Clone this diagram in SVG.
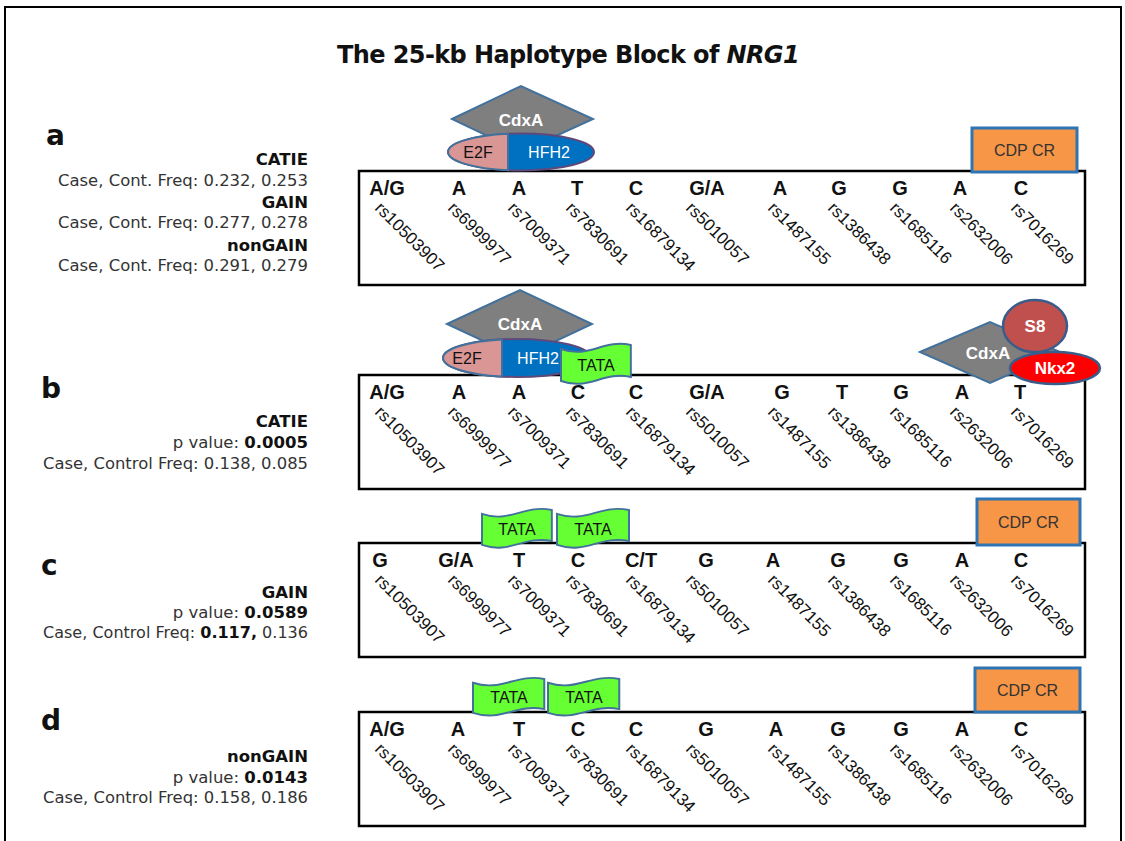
<svg xmlns="http://www.w3.org/2000/svg" width="1125" height="841" viewBox="0 0 1125 841">
<defs>
<style>
.lbl{font-family:"DejaVu Sans",Verdana,sans-serif;font-size:16.5px;fill:#333;text-anchor:end}
.lb{font-weight:bold;fill:#111}
.pl{font-family:"DejaVu Sans",Verdana,sans-serif;font-size:28px;font-weight:bold;fill:#111}
.al{font-family:"Liberation Sans",Arial,sans-serif;font-size:20px;font-weight:bold;fill:#111;text-anchor:middle}
.rs{font-family:"Liberation Sans",Arial,sans-serif;font-size:17px;fill:#111}
.box{fill:#fff;stroke:#000;stroke-width:2.5}
.dia{fill:#7f7f7f;stroke:#41719c;stroke-width:2}
.wt{font-family:"Liberation Sans",Arial,sans-serif;font-size:17px;font-weight:bold;fill:#fff;text-anchor:middle}
.tf{font-family:"Liberation Sans",Arial,sans-serif;font-size:16px;text-anchor:middle}
.cdp{fill:#f79646;stroke:#2e75b6;stroke-width:3}
.flag{fill:#66ff33;stroke:#41719c;stroke-width:2}
.ttl{font-family:"DejaVu Sans",Verdana,sans-serif;font-size:24px;font-weight:bold;fill:#111;letter-spacing:-0.6px}
</style>
<path id="flag" d="M0,4 C29,14 43,-6 72,0 L72,32 C43,26 29,46 0,36 Z"/>
</defs>
<rect x="0" y="0" width="1125" height="841" fill="#fff"/>
<rect x="5" y="7" width="1116" height="850" fill="none" stroke="#000" stroke-width="2"/>
<g id="title">
<text class="ttl" x="337" y="63">The 25-kb Haplotype Block of <tspan font-style="italic">NRG1</tspan></text>
</g>

<!-- Panel a -->
<g id="panel-a">
<text class="pl" x="46" y="145">a</text>
<text class="lbl lb" x="308" y="165">CATIE</text>
<text class="lbl" x="308" y="186" textLength="250" lengthAdjust="spacingAndGlyphs">Case, Cont. Freq: 0.232, 0.253</text>
<text class="lbl lb" x="308" y="208">GAIN</text>
<text class="lbl" x="308" y="228" textLength="250" lengthAdjust="spacingAndGlyphs">Case, Cont. Freq: 0.277, 0.278</text>
<text class="lbl lb" x="308" y="251">nonGAIN</text>
<text class="lbl" x="308" y="271" textLength="250" lengthAdjust="spacingAndGlyphs">Case, Cont. Freq: 0.291, 0.279</text>
<rect class="box" x="359" y="171" width="726" height="114"/>
<g class="al">
<text x="387" y="195">A/G</text><text x="459" y="195">A</text><text x="519" y="195">A</text><text x="577" y="195">T</text><text x="636" y="195">C</text><text x="707" y="195">G/A</text><text x="780" y="195">A</text><text x="839" y="195">G</text><text x="900" y="195">G</text><text x="960" y="195">A</text><text x="1021" y="195">C</text>
</g>
<g class="rs">
<text transform="translate(374,209) rotate(45)">rs10503907</text>
<text transform="translate(447,209) rotate(45)">rs6999977</text>
<text transform="translate(507,209) rotate(45)">rs7009371</text>
<text transform="translate(565,209) rotate(45)">rs7830691</text>
<text transform="translate(625,209) rotate(45)">rs16879134</text>
<text transform="translate(685,209) rotate(45)">rs5010057</text>
<text transform="translate(767,209) rotate(45)">rs1487155</text>
<text transform="translate(827,209) rotate(45)">rs1386438</text>
<text transform="translate(889,209) rotate(45)">rs1685116</text>
<text transform="translate(949,209) rotate(45)">rs2632006</text>
<text transform="translate(1010,209) rotate(45)">rs7016269</text>
</g>
</g>
<g id="a-cdxa">
<polygon class="dia" points="452,119 521,86 593,119 521,152"/>
<text class="wt" x="521" y="126">CdxA</text>
</g>
<g id="a-e2f-hfh2">
<ellipse cx="521" cy="152" rx="73" ry="18.5" fill="#0070c0" stroke="#5f497a" stroke-width="2"/>
<path d="M508,133.8 A73,18.5 0 0 0 508,170.2 Z" fill="#d99694" stroke="#41719c" stroke-width="2"/>
<text class="tf" x="478" y="158" fill="#111">E2F</text>
<text class="tf" x="549" y="158" fill="#fff">HFH2</text>
</g>
<g id="a-cdp">
<rect class="cdp" x="972" y="128" width="105" height="44"/>
<text class="tf" x="1024.5" y="156" fill="#333">CDP CR</text>
</g>

<!-- Panel b -->
<g id="panel-b">
<text class="pl" x="41" y="398">b</text>
<text class="lbl lb" x="308" y="427">CATIE</text>
<text class="lbl" x="308" y="448">p value: <tspan class="lb">0.0005</tspan></text>
<text class="lbl" x="308" y="469" textLength="265" lengthAdjust="spacingAndGlyphs">Case, Control Freq: 0.138, 0.085</text>
<rect class="box" x="359" y="375" width="726" height="114"/>
<g class="al">
<text x="387" y="399">A/G</text><text x="459" y="399">A</text><text x="519" y="399">A</text><text x="578" y="399">C</text><text x="636" y="399">C</text><text x="707" y="399">G/A</text><text x="782" y="399">G</text><text x="842" y="399">T</text><text x="901" y="399">G</text><text x="962" y="399">A</text><text x="1020" y="399">T</text>
</g>
<g class="rs">
<text transform="translate(374,413) rotate(45)">rs10503907</text>
<text transform="translate(447,413) rotate(45)">rs6999977</text>
<text transform="translate(507,413) rotate(45)">rs7009371</text>
<text transform="translate(565,413) rotate(45)">rs7830691</text>
<text transform="translate(625,413) rotate(45)">rs16879134</text>
<text transform="translate(685,413) rotate(45)">rs5010057</text>
<text transform="translate(767,413) rotate(45)">rs1487155</text>
<text transform="translate(827,413) rotate(45)">rs1386438</text>
<text transform="translate(889,413) rotate(45)">rs1685116</text>
<text transform="translate(949,413) rotate(45)">rs2632006</text>
<text transform="translate(1010,413) rotate(45)">rs7016269</text>
</g>
</g>
<g id="b-cdxa">
<polygon class="dia" points="447,324 520,290 592,324 520,358"/>
<text class="wt" x="520" y="330">CdxA</text>
</g>
<g id="b-e2f-hfh2">
<ellipse cx="517" cy="358" rx="74" ry="19" fill="#0070c0" stroke="#5f497a" stroke-width="2"/>
<path d="M502,339.4 A74,19 0 0 0 502,376.6 Z" fill="#d99694" stroke="#41719c" stroke-width="2"/>
<text class="tf" x="467" y="364" fill="#111">E2F</text>
<text class="tf" x="538" y="364" fill="#fff">HFH2</text>
</g>
<g id="b-tata">
<use href="#flag" class="flag" transform="translate(561,345) scale(0.97,1)"/>
<text class="tf" x="596" y="371" fill="#111">TATA</text>
</g>
<g id="b-cdxa2">
<polygon class="dia" points="920,352 990,322 1060,352 990,383"/>
<text class="wt" x="988" y="359">CdxA</text>
</g>
<g id="b-s8">
<ellipse cx="1035" cy="326" rx="32" ry="26" fill="#c0504d" stroke="#385d8a" stroke-width="2.5"/>
<text class="wt" x="1035" y="332">S8</text>
</g>
<g id="b-nkx2">
<ellipse cx="1055" cy="368" rx="45" ry="16" fill="#ff0000" stroke="#385d8a" stroke-width="2.5"/>
<text class="wt" x="1055" y="374">Nkx2</text>
</g>

<!-- Panel c -->
<g id="panel-c">
<text class="pl" x="41" y="575">c</text>
<text class="lbl lb" x="308" y="598">GAIN</text>
<text class="lbl" x="308" y="618">p value: <tspan class="lb">0.0589</tspan></text>
<text class="lbl" x="308" y="638" textLength="265" lengthAdjust="spacingAndGlyphs">Case, Control Freq: <tspan class="lb">0.117,</tspan> 0.136</text>
<rect class="box" x="359" y="543" width="726" height="114"/>
<g class="al">
<text x="380" y="567">G</text><text x="456" y="567">G/A</text><text x="519" y="567">T</text><text x="578" y="567">C</text><text x="641" y="567">C/T</text><text x="706" y="567">G</text><text x="773" y="567">A</text><text x="838" y="567">G</text><text x="901" y="567">G</text><text x="962" y="567">A</text><text x="1021" y="567">C</text>
</g>
<g class="rs">
<text transform="translate(374,581) rotate(45)">rs10503907</text>
<text transform="translate(447,581) rotate(45)">rs6999977</text>
<text transform="translate(507,581) rotate(45)">rs7009371</text>
<text transform="translate(565,581) rotate(45)">rs7830691</text>
<text transform="translate(625,581) rotate(45)">rs16879134</text>
<text transform="translate(685,581) rotate(45)">rs5010057</text>
<text transform="translate(767,581) rotate(45)">rs1487155</text>
<text transform="translate(827,581) rotate(45)">rs1386438</text>
<text transform="translate(889,581) rotate(45)">rs1685116</text>
<text transform="translate(949,581) rotate(45)">rs2632006</text>
<text transform="translate(1010,581) rotate(45)">rs7016269</text>
</g>
</g>
<g id="c-tata1">
<use href="#flag" class="flag" transform="translate(482,510) scale(0.97,0.97)"/>
<text class="tf" x="517" y="535" fill="#111">TATA</text>
</g>
<g id="c-tata2">
<use href="#flag" class="flag" transform="translate(557,510) scale(1,0.97)"/>
<text class="tf" x="593" y="535" fill="#111">TATA</text>
</g>
<g id="c-cdp">
<rect class="cdp" x="977" y="499" width="103" height="46"/>
<text class="tf" x="1028.5" y="528" fill="#333">CDP CR</text>
</g>

<!-- Panel d -->
<g id="panel-d">
<text class="pl" x="41" y="730">d</text>
<text class="lbl lb" x="308" y="762">nonGAIN</text>
<text class="lbl" x="308" y="783">p value: <tspan class="lb">0.0143</tspan></text>
<text class="lbl" x="308" y="803" textLength="265" lengthAdjust="spacingAndGlyphs">Case, Control Freq: 0.158, 0.186</text>
<rect class="box" x="359" y="712" width="726" height="114"/>
<g class="al">
<text x="387" y="736">A/G</text><text x="458" y="736">A</text><text x="519" y="736">T</text><text x="578" y="736">C</text><text x="636" y="736">C</text><text x="706" y="736">G</text><text x="776" y="736">A</text><text x="838" y="736">G</text><text x="901" y="736">G</text><text x="962" y="736">A</text><text x="1021" y="736">C</text>
</g>
<g class="rs">
<text transform="translate(374,750) rotate(45)">rs10503907</text>
<text transform="translate(447,750) rotate(45)">rs6999977</text>
<text transform="translate(507,750) rotate(45)">rs7009371</text>
<text transform="translate(565,750) rotate(45)">rs7830691</text>
<text transform="translate(625,750) rotate(45)">rs16879134</text>
<text transform="translate(685,750) rotate(45)">rs5010057</text>
<text transform="translate(767,750) rotate(45)">rs1487155</text>
<text transform="translate(827,750) rotate(45)">rs1386438</text>
<text transform="translate(889,750) rotate(45)">rs1685116</text>
<text transform="translate(949,750) rotate(45)">rs2632006</text>
<text transform="translate(1010,750) rotate(45)">rs7016269</text>
</g>
</g>
<g id="d-tata1">
<use href="#flag" class="flag" transform="translate(473,679) scale(0.99,0.94)"/>
<text class="tf" x="509" y="703" fill="#111">TATA</text>
</g>
<g id="d-tata2">
<use href="#flag" class="flag" transform="translate(548,679) scale(0.99,0.94)"/>
<text class="tf" x="584" y="703" fill="#111">TATA</text>
</g>
<g id="d-cdp">
<rect class="cdp" x="975" y="668" width="105" height="44"/>
<text class="tf" x="1027.5" y="696" fill="#333">CDP CR</text>
</g>
<g id="connectors"></g>
</svg>
